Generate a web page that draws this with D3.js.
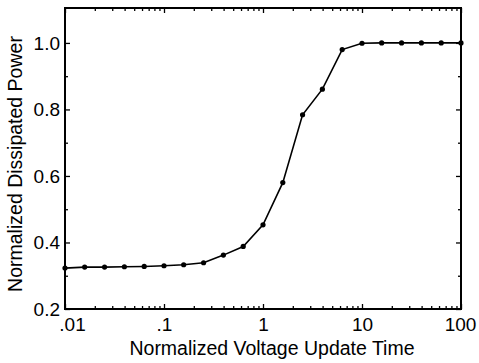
<!DOCTYPE html>
<html><head><meta charset="utf-8">
<script src="https://cdn.jsdelivr.net/npm/d3@7"></script>
<style>
body{margin:0;background:#fff;}
svg{display:block;font-family:Arial,"Liberation Sans",Helvetica,sans-serif;}
</style></head>
<body>
<svg id="c" width="479" height="363"></svg>
<script>
const xValues = [0.01,0.0158,0.0251,0.0398,0.0631,0.1,0.158,0.251,0.398,0.631,1,1.585,2.51,3.98,6.31,10,15.8,25.1,39.8,63.1,100];
const yValues = [0.323,0.326,0.326,0.327,0.328,0.330,0.333,0.339,0.362,0.388,0.453,0.580,0.784,0.861,0.980,0.999,1.0,1.0,1.0,1.0,1.0];
const xMajorTicks = [0.01,0.1,1,10,100];
const xTickLabels = [".01",".1","1","10","100"];
const yMajorTicks = [0.2,0.4,0.6,0.8,1.0];
const yTickLabels = ["0.2","0.4","0.6","0.8","1.0"];
const yMinorTicks = [0.3,0.5,0.7,0.9];
const xTitle = "Normalized Voltage Update Time";
const yTitle = "Normalized Dissipated Power";

const L=65,R=461,T=8,B=309;
const svg=d3.select("#c");
const x=d3.scaleLog().domain([0.01,100]).range([L,R]);
const y=d3.scaleLinear().domain([0.2,1.105]).range([B,T]);

const xMinor=[];
[0.01,0.1,1,10].forEach(d=>{for(let k=2;k<=9;k++)xMinor.push(d*k);});

function style(g){g.select(".domain").remove();g.selectAll("line").attr("stroke","#000").attr("stroke-width",1.3);}

// bottom
svg.append("g").attr("transform",`translate(0,${B})`)
 .call(d3.axisBottom(x).tickValues(xMajorTicks).tickSize(-5).tickPadding(9).tickFormat((d,i)=>xTickLabels[i]))
 .call(style)
 .call(g=>g.selectAll("text").attr("font-size",19).attr("fill","#000").attr("font-family","Arial,'Liberation Sans',sans-serif"))
 .call(g=>g.selectAll("text").filter((d,i)=>i===0).attr("dx",7))
 .call(g=>g.selectAll("text").filter((d,i)=>i===4).attr("dx",-1));
svg.append("g").attr("transform",`translate(0,${B})`)
 .call(d3.axisBottom(x).tickValues(xMinor).tickSize(-3).tickFormat(""))
 .call(style);
// top
svg.append("g").attr("transform",`translate(0,${T})`)
 .call(d3.axisTop(x).tickValues(xMajorTicks).tickSize(-5).tickFormat(""))
 .call(style);
svg.append("g").attr("transform",`translate(0,${T})`)
 .call(d3.axisTop(x).tickValues(xMinor).tickSize(-3).tickFormat(""))
 .call(style);
// left
svg.append("g").attr("transform",`translate(${L},0)`)
 .call(d3.axisLeft(y).tickValues(yMajorTicks).tickSize(-5).tickPadding(5).tickFormat((d,i)=>yTickLabels[i]))
 .call(style)
 .call(g=>g.selectAll("text").attr("font-size",19).attr("fill","#000").attr("font-family","Arial,'Liberation Sans',sans-serif"));
svg.append("g").attr("transform",`translate(${L},0)`)
 .call(d3.axisLeft(y).tickValues(yMinorTicks).tickSize(-3).tickFormat(""))
 .call(style);
// right
svg.append("g").attr("transform",`translate(${R},0)`)
 .call(d3.axisRight(y).tickValues(yMajorTicks).tickSize(-5).tickFormat(""))
 .call(style);
svg.append("g").attr("transform",`translate(${R},0)`)
 .call(d3.axisRight(y).tickValues(yMinorTicks).tickSize(-3).tickFormat(""))
 .call(style);

// frame
svg.append("rect").attr("x",L).attr("y",T).attr("width",R-L).attr("height",B-T)
 .attr("fill","none").attr("stroke","#000").attr("stroke-width",2);

const data=xValues.map((d,i)=>({x:d,y:yValues[i]}));
svg.append("path").datum(data)
 .attr("d",d3.line().x(d=>x(d.x)).y(d=>y(d.y)))
 .attr("fill","none").attr("stroke","#000").attr("stroke-width",1.6);
svg.append("g").selectAll("circle").data(data).join("circle")
 .attr("cx",d=>x(d.x)).attr("cy",d=>y(d.y)).attr("r",2.6).attr("fill","#000");

svg.append("text").attr("x",272).attr("y",355).attr("text-anchor","middle")
 .attr("font-size",19.5).attr("fill","#000").text(xTitle);
svg.append("text").attr("transform","translate(22,164) rotate(-90)").attr("text-anchor","middle")
 .attr("font-size",19.5).attr("fill","#000").text(yTitle);
</script>
</body></html>
